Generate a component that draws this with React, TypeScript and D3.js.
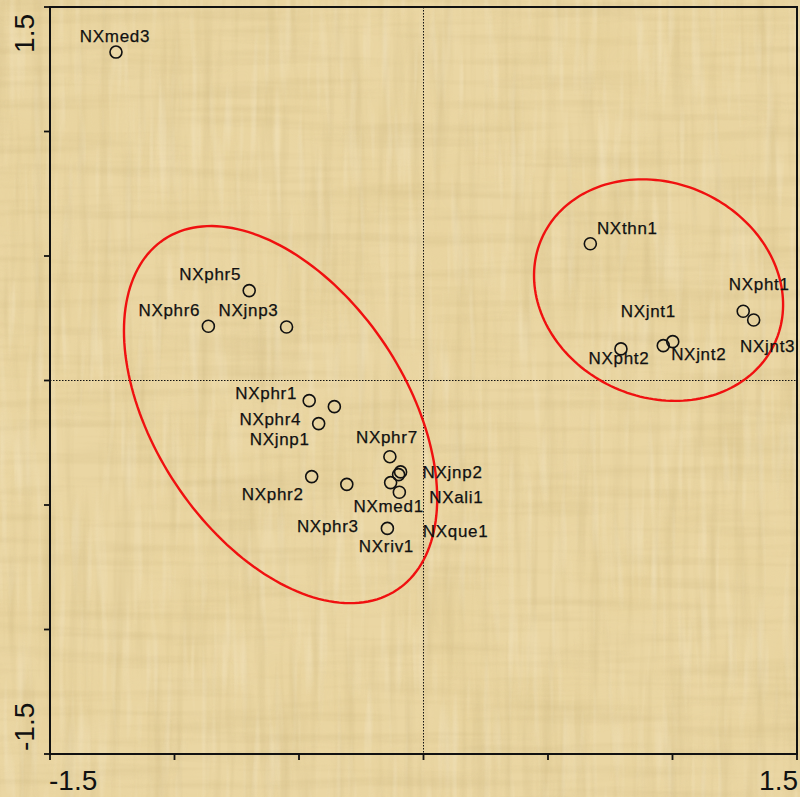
import React from "react";
import * as d3 from "d3";

// Site scores on the first two ordination axes
const sampleNames = [
  "NXmed3", "NXphr5", "NXphr6", "NXjnp3", "NXphr1", "NXphr4", "NXjnp1",
  "NXphr7", "NXjnp2", "NXque1", "NXmed1", "NXali1", "NXphr2", "NXphr3",
  "NXriv1", "NXthn1", "NXpht2", "NXjnt1", "NXjnt2", "NXpht1", "NXjnt3",
];
const axis1 = [
  -1.235, -0.7, -0.864, -0.55, -0.459, -0.358, -0.421,
  -0.135, -0.092, -0.1, -0.132, -0.097, -0.449, -0.308,
  -0.145, 0.67, 0.793, 0.963, 1.001, 1.284, 1.326,
];
const axis2 = [
  1.319, 0.361, 0.218, 0.215, -0.081, -0.105, -0.173,
  -0.306, -0.367, -0.378, -0.41, -0.449, -0.386, -0.417,
  -0.594, 0.549, 0.127, 0.14, 0.156, 0.278, 0.243,
];

// Label placement (pixels from the point: horizontal centre, baseline)
const labelDx = [
  -1, -39, -39, -38, -43, -64, -39,
  -3, 52, 57, -2, 57, -39, -19,
  -1, 37, -2, -15, 26, 16, 14,
];
const labelDy = [
  -10, -11, -10, -11, -2, 18, 21,
  -14, 6, 62, 29, 11, 23, 48,
  24, -10, 15, -29, 18, -21, 32,
];

// Group ellipses: centre, semi-axes and rotation (degrees) in axis units
const ellipseCx = [-0.574, 0.944];
const ellipseCy = [-0.137, 0.363];
const ellipseA = [0.845, 0.513];
const ellipseB = [0.505, 0.43];
const ellipseAngle = [-56.4, -24.1];

const axisTicks = [-1.5, -1, -0.5, 0, 0.5, 1, 1.5];
const axisLabels = ["-1.5", "1.5"];

const W = 800;
const H = 797;
const plot = { left: 50, right: 797, top: 7, bottom: 754 };

export default function App() {
  const x = d3.scaleLinear().domain([-1.5, 1.5]).range([plot.left, plot.right]);
  const y = d3.scaleLinear().domain([-1.5, 1.5]).range([plot.bottom, plot.top]);

  const line = d3
    .line<[number, number]>()
    .x((d) => x(d[0]))
    .y((d) => y(d[1]))
    .curve(d3.curveLinearClosed);

  const ellipsePath = (i: number) => {
    const th = (ellipseAngle[i] * Math.PI) / 180;
    const pts: [number, number][] = d3.range(0, 361, 2).map((deg) => {
      const t = (deg * Math.PI) / 180;
      const ex = ellipseA[i] * Math.cos(t);
      const ey = ellipseB[i] * Math.sin(t);
      return [
        ellipseCx[i] + ex * Math.cos(th) - ey * Math.sin(th),
        ellipseCy[i] + ex * Math.sin(th) + ey * Math.cos(th),
      ];
    });
    return line(pts) || "";
  };

  const ink = "#111111";
  const font = "'Liberation Sans', Arial, Helvetica, sans-serif";

  return (
    <svg
      width={W}
      height={H}
      style={{ position: "absolute", left: 0, top: 0, display: "block" }}
    >
      <defs>
        <filter id="fibresV" x="0" y="0" width="100%" height="100%">
          <feTurbulence type="fractalNoise" baseFrequency="0.09 0.006" numOctaves="3" seed="4" />
          <feColorMatrix type="matrix" values="0 0 0 0 0.55  0 0 0 0 0.42  0 0 0 0 0.18  1.6 0 0 0 -0.72" />
        </filter>
        <filter id="fibresH" x="0" y="0" width="100%" height="100%">
          <feTurbulence type="fractalNoise" baseFrequency="0.006 0.09" numOctaves="3" seed="11" />
          <feColorMatrix type="matrix" values="0 0 0 0 0.55  0 0 0 0 0.42  0 0 0 0 0.18  1.5 0 0 0 -0.68" />
        </filter>
        <filter id="lightV" x="0" y="0" width="100%" height="100%">
          <feTurbulence type="fractalNoise" baseFrequency="0.12 0.01" numOctaves="2" seed="23" />
          <feColorMatrix type="matrix" values="0 0 0 0 1  0 0 0 0 0.97  0 0 0 0 0.88  -1.6 0 0 0 0.78" />
        </filter>
        <filter id="blotch" x="0" y="0" width="100%" height="100%">
          <feTurbulence type="fractalNoise" baseFrequency="0.012" numOctaves="2" seed="7" />
          <feColorMatrix type="matrix" values="0 0 0 0 0.78  0 0 0 0 0.62  0 0 0 0 0.3  1.4 0 0 0 -0.55" />
        </filter>
      </defs>

      {/* papyrus background */}
      <rect x={0} y={0} width={W} height={H} fill="#ead6a3" />
      <rect x={0} y={0} width={W} height={H} filter="url(#blotch)" opacity={0.6} />
      <rect x={0} y={0} width={W} height={H} filter="url(#fibresV)" opacity={0.35} />
      <rect x={0} y={0} width={W} height={H} filter="url(#fibresH)" opacity={0.3} />
      <rect x={0} y={0} width={W} height={H} filter="url(#lightV)" opacity={0.35} />

      {/* zero reference lines */}
      <line x1={x(0)} x2={x(0)} y1={plot.top} y2={plot.bottom} stroke={ink} strokeWidth={1} strokeDasharray="1.5,1.5" />
      <line x1={plot.left} x2={plot.right} y1={y(0)} y2={y(0)} stroke={ink} strokeWidth={1} strokeDasharray="1.5,1.5" />

      {/* group ellipses */}
      {ellipseCx.map((_, i) => (
        <path key={i} d={ellipsePath(i)} fill="none" stroke="#f01010" strokeWidth={2.4} />
      ))}

      {/* frame */}
      <rect
        x={plot.left}
        y={plot.top}
        width={plot.right - plot.left}
        height={plot.bottom - plot.top}
        fill="none"
        stroke={ink}
        strokeWidth={2}
      />

      {/* bottom axis ticks */}
      {axisTicks.map((t) => (
        <line key={"bx" + t} x1={x(t)} x2={x(t)} y1={plot.bottom} y2={plot.bottom + 6} stroke={ink} strokeWidth={1.8} />
      ))}
      {/* left axis ticks */}
      {axisTicks.map((t) => (
        <line key={"ly" + t} x1={plot.left - 6} x2={plot.left} y1={y(t)} y2={y(t)} stroke={ink} strokeWidth={1.8} />
      ))}

      {/* axis end labels */}
      <text x={x(-1.5) - 1} y={790} fontFamily={font} fontSize={28} fill={ink} textAnchor="start">
        {axisLabels[0]}
      </text>
      <text x={x(1.5) + 1} y={790} fontFamily={font} fontSize={28} fill={ink} textAnchor="end">
        {axisLabels[1]}
      </text>
      <text
        transform={`translate(34, ${y(-1.5) - 3}) rotate(-90)`}
        fontFamily={font}
        fontSize={28}
        fill={ink}
        textAnchor="start"
      >
        {axisLabels[0]}
      </text>
      <text
        transform={`translate(34, ${y(1.5) + 7}) rotate(-90)`}
        fontFamily={font}
        fontSize={28}
        fill={ink}
        textAnchor="end"
      >
        {axisLabels[1]}
      </text>

      {/* sites */}
      {sampleNames.map((name, i) => (
        <g key={name}>
          <circle cx={x(axis1[i])} cy={y(axis2[i])} r={6} fill="none" stroke={ink} strokeWidth={1.6} />
          <text
            x={x(axis1[i]) + labelDx[i]}
            y={y(axis2[i]) + labelDy[i]}
            fontFamily={font}
            fontSize={17}
            letterSpacing={0.7}
            fill={ink}
            stroke={ink}
            strokeWidth={0.25}
            textAnchor="middle"
          >
            {name}
          </text>
        </g>
      ))}
    </svg>
  );
}
